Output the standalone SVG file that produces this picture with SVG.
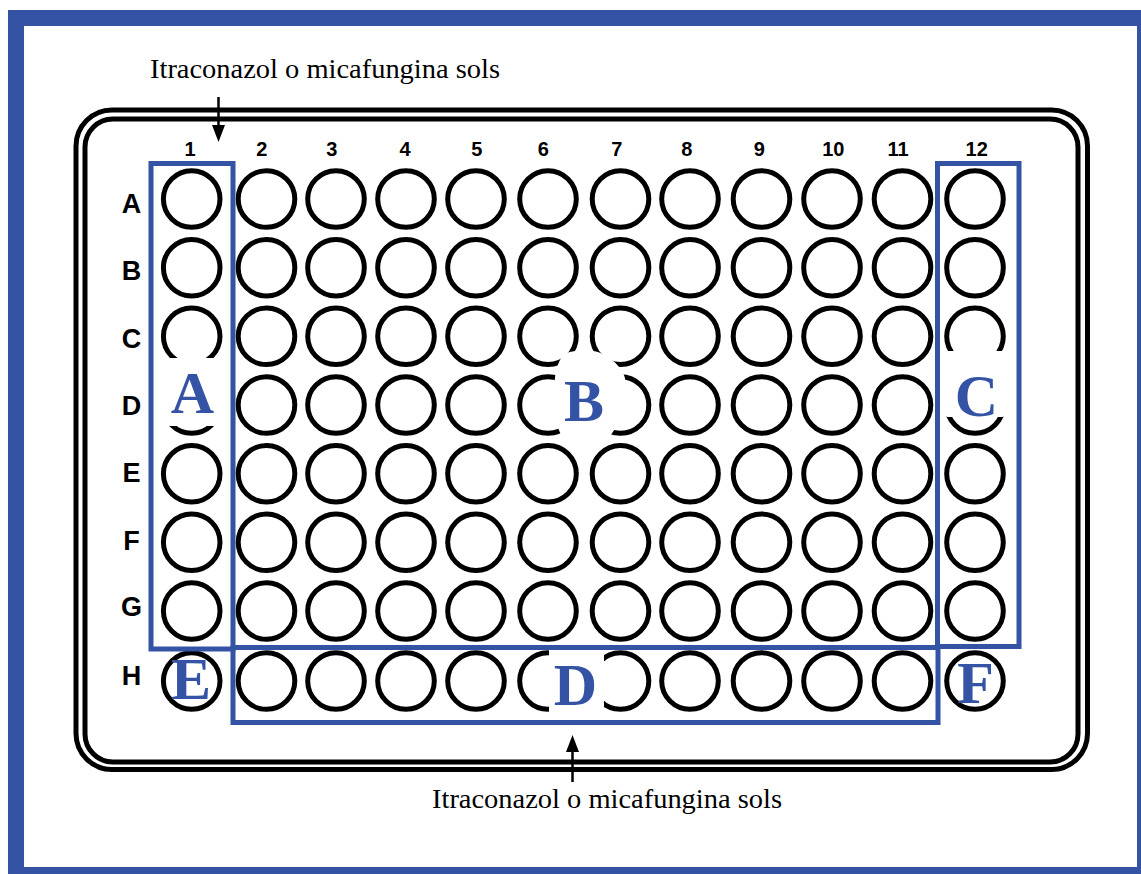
<svg xmlns="http://www.w3.org/2000/svg" width="1141" height="874" viewBox="0 0 1141 874">
<style>
.w{fill:none;stroke:#000;stroke-width:5}
.plate{fill:none;stroke:#000;stroke-width:5}
.box{fill:none;stroke:#3453a5;stroke-width:5}
.halo{fill:#fff;stroke:none}
.cl{font-family:"Liberation Sans",Arial,sans-serif;font-weight:bold;font-size:20px;text-anchor:middle;fill:#000}
.rl{font-family:"Liberation Sans",Arial,sans-serif;font-weight:bold;font-size:27px;text-anchor:middle;fill:#000}
.big{font-family:"Liberation Serif","Times New Roman",serif;font-weight:bold;font-size:60px;text-anchor:middle;fill:#3453a5}
.note{font-family:"Liberation Serif","Times New Roman",serif;font-size:28px;fill:#000}
.arr{stroke:#000;stroke-width:2.5;fill:none}
</style>
<defs>
<g id="row">
<circle class="w" cx="191.7" cy="0" r="28.3"/><circle class="w" cx="266.5" cy="0" r="28.3"/><circle class="w" cx="336" cy="0" r="28.3"/><circle class="w" cx="406" cy="0" r="28.3"/><circle class="w" cx="476" cy="0" r="28.3"/><circle class="w" cx="548" cy="0" r="28.3"/><circle class="w" cx="620.5" cy="0" r="28.3"/><circle class="w" cx="690" cy="0" r="28.3"/><circle class="w" cx="761.5" cy="0" r="28.3"/><circle class="w" cx="832" cy="0" r="28.3"/><circle class="w" cx="902.5" cy="0" r="28.3"/><circle class="w" cx="975" cy="0" r="28.3"/>
</g>
</defs>
<rect x="0" y="0" width="1141" height="874" fill="#fff"/>
<rect id="frame" x="16" y="18" width="1129" height="857" fill="none" stroke="#3453a5" stroke-width="16"/>
<g id="plate">
<rect class="plate" x="76" y="110" width="1011.5" height="659.5" rx="36"/>
<rect class="plate" x="85" y="119" width="993" height="643" rx="28"/>
</g>
<g id="wells">
<use href="#row" y="199"/>
<use href="#row" y="267.7"/>
<use href="#row" y="336.3"/>
<use href="#row" y="405"/>
<use href="#row" y="473.7"/>
<use href="#row" y="542.3"/>
<use href="#row" y="611"/>
<use href="#row" y="681"/>
</g>
<g id="column-labels">
<text class="cl" x="190" y="156">1</text><text class="cl" x="261.7" y="156">2</text><text class="cl" x="331.7" y="156">3</text><text class="cl" x="405" y="156">4</text><text class="cl" x="476.7" y="156">5</text><text class="cl" x="543.3" y="156">6</text><text class="cl" x="616.7" y="156">7</text><text class="cl" x="686.7" y="156">8</text><text class="cl" x="759.3" y="156">9</text><text class="cl" x="833.3" y="156">10</text><text class="cl" x="898" y="156">11</text><text class="cl" x="976.7" y="156">12</text>
</g>
<g id="row-labels">
<text class="rl" x="131.5" y="213">A</text><text class="rl" x="131.5" y="280">B</text><text class="rl" x="131.5" y="348">C</text><text class="rl" x="131.5" y="415">D</text><text class="rl" x="131.5" y="482">E</text><text class="rl" x="131.5" y="550">F</text><text class="rl" x="131.5" y="616">G</text><text class="rl" x="131.5" y="685">H</text>
</g>
<g id="halos">
<rect class="halo" x="157" y="358" width="70" height="68" rx="10"/>
<path class="halo" d="M566,353 C580,349 596,349 604,355 C614,360 622,368 625,378 C626,400 620,425 610,436 C595,441 575,441 562,436 C555,425 551,400 555,378 C556,367 560,357 566,353 Z"/>
<rect class="halo" x="942" y="351" width="66" height="66" rx="6"/>
<rect class="halo" x="549" y="645" width="55" height="71"/>
</g>
<g id="region-A"><rect class="box" x="151" y="163.5" width="82" height="485.5"/><text class="big" x="192.5" y="413">A</text></g>
<g id="region-B"><text class="big" x="584" y="420.5">B</text></g>
<g id="region-C"><rect class="box" x="937.5" y="163.5" width="81.5" height="483"/><text class="big" x="976.5" y="416">C</text></g>
<g id="region-D"><rect class="box" x="233" y="647.5" width="705" height="75"/><text class="big" x="575.5" y="705">D</text></g>
<g id="region-E"><text class="big" x="191" y="699">E</text></g>
<g id="region-F"><text class="big" x="975.5" y="703">F</text></g>
<g id="annotations">
<text class="note" x="150" y="78" textLength="350" lengthAdjust="spacingAndGlyphs">Itraconazol o micafungina sols</text>
<text class="note" x="432" y="808" textLength="350" lengthAdjust="spacingAndGlyphs">Itraconazol o micafungina sols</text>
</g>
<g id="connectors">
<line class="arr" x1="218.5" y1="97" x2="218.5" y2="128"/>
<polygon points="212,125 225,125 218.5,142" fill="#000"/>
<line class="arr" x1="572.5" y1="782" x2="572.5" y2="750"/>
<polygon points="566,752 579,752 572.5,735" fill="#000"/>
</g>
</svg>
